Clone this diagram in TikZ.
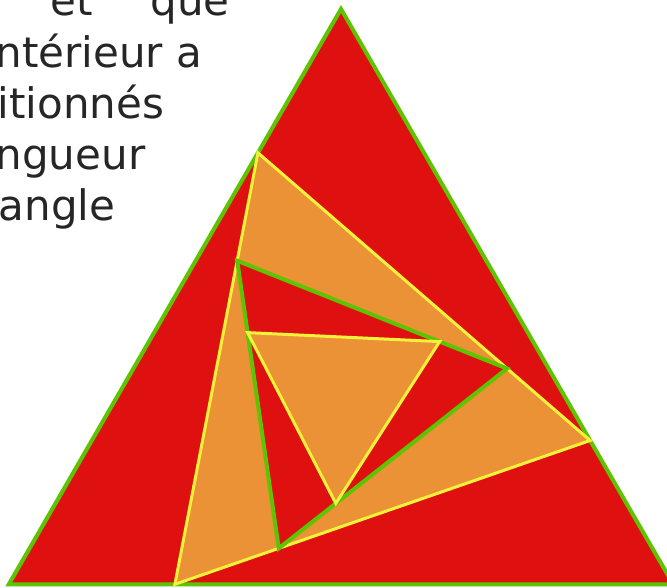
\documentclass[tikz,border=0pt]{standalone}
\usepackage{fontspec}
\setmainfont{DejaVu Sans}
\usetikzlibrary{calc}
\definecolor{tred}{HTML}{DE1010}
\definecolor{torange}{HTML}{EC9236}
\definecolor{tgreen}{HTML}{5CC400}
\definecolor{tyellow}{HTML}{F2F23A}
\tikzset{
  redtri/.style={fill=tred, draw=tgreen, line width=4pt, line join=miter},
  orangetri/.style={fill=torange, draw=tyellow, line width=3pt, line join=miter},
  txt/.style={inner sep=0pt, font=\fontsize{42}{50}\selectfont, text=black!85}
}
\begin{document}
\begin{tikzpicture}[x=1pt, y=-1pt]
\useasboundingbox (0,0) rectangle (667,587);
% outer triangle
\coordinate (A) at (341,9);
\coordinate (B) at (8.8,584.3);
\coordinate (C) at (673.2,584.3);
% first inner (orange)
\coordinate (P1) at ($(A)!0.25!(B)$);
\coordinate (P2) at ($(B)!0.25!(C)$);
\coordinate (P3) at ($(C)!0.25!(A)$);
% second inner (red)
\coordinate (Q1) at ($(P1)!0.25!(P2)$);
\coordinate (Q2) at ($(P2)!0.25!(P3)$);
\coordinate (Q3) at ($(P3)!0.25!(P1)$);
% third inner (orange)
\coordinate (R1) at ($(Q1)!0.25!(Q2)$);
\coordinate (R2) at ($(Q2)!0.25!(Q3)$);
\coordinate (R3) at ($(Q3)!0.25!(Q1)$);
\draw[redtri] (A) -- (B) -- (C) -- cycle;
\draw[orangetri] (P1) -- (P2) -- (P3) -- cycle;
\draw[redtri] (Q1) -- (Q2) -- (Q3) -- cycle;
\draw[orangetri] (R1) -- (R2) -- (R3) -- cycle;
% clipped text
\node[txt, anchor=base west] (t1a) at (50.5,15.5) {et};
\node[txt, anchor=base west] (t1b) at (150.5,15.5) {que};
\node[txt, anchor=base east] (t2) at (202.5,67) {ntérieur a};
\node[txt, anchor=base west] (t3) at (-2.5,118) {itionnés};
\node[txt, anchor=base east] (t4) at (145.5,169) {ngueur};
\node[txt, anchor=base east] (t5) at (115.5,220) {angle};
\end{tikzpicture}
\end{document}
